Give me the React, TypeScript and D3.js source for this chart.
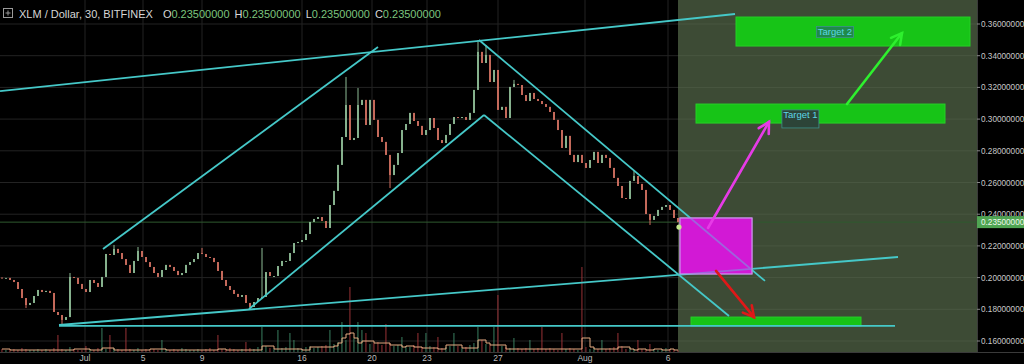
import React from 'react';
import * as d3 from 'd3';

// ── Data ─────────────────────────────────────────────────────────────────────
// Closing prices of the coarse candles, one per bar index
const closes = [
  0.1998, 0.1998, 0.1985, 0.1972, 0.1928, 0.1871, 0.1827, 0.1840, 0.1884, 0.1922,
  0.1909, 0.1916, 0.1903, 0.1783, 0.1764, 0.1733, 0.1751, 0.2004, 0.1998, 0.1960,
  0.1928, 0.1909, 0.1985, 0.1966, 0.1941, 0.2004, 0.2149, 0.2143, 0.2181, 0.2155,
  0.2117, 0.2080, 0.2029, 0.2105, 0.2168, 0.2130, 0.2098, 0.2067, 0.2029, 0.2004,
  0.2048, 0.2080, 0.2067, 0.2042, 0.2016, 0.2029, 0.2080, 0.2098, 0.2117, 0.2155,
  0.2149, 0.2130, 0.2124, 0.2098, 0.2042, 0.1985, 0.1947, 0.1922, 0.1897, 0.1878,
  0.1890, 0.1840, 0.1815, 0.1846, 0.1871, 0.1878, 0.2035, 0.2010, 0.2010, 0.2073,
  0.2105, 0.2105, 0.2155, 0.2218, 0.2225, 0.2237, 0.2275, 0.2351, 0.2370, 0.2382,
  0.2357, 0.2313, 0.2458, 0.2547, 0.2711, 0.2887, 0.3089, 0.2868, 0.2881, 0.3089,
  0.3121, 0.2963, 0.3121, 0.2995, 0.2887, 0.2856, 0.2774, 0.2647, 0.2711, 0.2786,
  0.2931, 0.2969, 0.3039, 0.2988, 0.2957, 0.2900, 0.2931, 0.3007, 0.2944, 0.2868,
  0.2849, 0.2900, 0.2969, 0.3013, 0.3007, 0.3013, 0.2995, 0.3039, 0.3184, 0.3424,
  0.3354, 0.3405, 0.3234, 0.3310, 0.3058, 0.3077, 0.3007, 0.3203, 0.3222, 0.3215,
  0.3152, 0.3114, 0.3165, 0.3127, 0.3114, 0.3095, 0.3077, 0.3045, 0.2995, 0.2931,
  0.2818, 0.2894, 0.2774, 0.2729, 0.2774, 0.2723, 0.2692, 0.2742, 0.2793, 0.2723,
  0.2774, 0.2755, 0.2692, 0.2629, 0.2578, 0.2502, 0.2496, 0.2610, 0.2641, 0.2591,
  0.2553, 0.2401, 0.2364, 0.2389, 0.2427, 0.2446, 0.2458, 0.2427, 0.2376, 0.2350,
];
const firstOpen = 0.2000;

// wicks that stick out beyond the bodies: [bar, price]
const wickHighs = [
  [17, 0.2029], [28, 0.2206], [34, 0.2193], [50, 0.2187], [65, 0.2187],
  [86, 0.3266], [89, 0.3196], [119, 0.3499], [121, 0.3467], [128, 0.3247], [158, 0.2679],
];
const wickLows = [
  [6, 0.1808], [15, 0.1701], [62, 0.1796], [97, 0.2565], [162, 0.2332],
];

// volume per bar
const volumes = [
  3, 2, 2, 3, 2, 4, 3, 2, 2, 3,
  2, 3, 2, 4, 17, 3, 2, 5, 3, 2,
  2, 6, 3, 2, 4, 24, 3, 17, 4, 3,
  2, 24, 3, 2, 4, 2, 3, 2, 3, 2,
  12, 3, 2, 3, 2, 4, 3, 2, 2, 3,
  2, 3, 4, 2, 17, 3, 2, 4, 3, 2,
  3, 10, 4, 3, 5, 25, 6, 4, 3, 22,
  4, 5, 19, 12, 4, 3, 5, 6, 4, 5,
  6, 7, 22, 8, 10, 30, 12, 65, 14, 30,
  22, 19, 8, 9, 10, 7, 28, 9, 6, 7,
  15, 6, 5, 7, 19, 5, 19, 6, 5, 15,
  4, 5, 6, 19, 6, 4, 5, 7, 9, 25,
  12, 8, 7, 25, 57, 6, 5, 4, 14, 4,
  3, 4, 12, 3, 4, 25, 3, 4, 3, 2,
  19, 3, 4, 3, 2, 85, 5, 3, 4, 3,
  12, 3, 4, 5, 19, 6, 3, 4, 3, 12,
  3, 2, 8, 3, 2, 3, 4, 3, 2, 2,
];

// volume moving average as drawn
const volumeMa = [
  3, 3, 2, 2, 2, 2, 2, 2, 2, 2,
  2, 2, 2, 2, 2, 2, 2, 2, 3, 3,
  3, 3, 2, 2, 2, 4, 4, 4, 2, 2,
  2, 2, 2, 2, 2, 2, 2, 3, 3, 3,
  3, 2, 2, 2, 2, 2, 2, 2, 2, 2,
  2, 2, 2, 2, 3, 3, 2, 2, 2, 2,
  2, 2, 2, 2, 2, 6, 6, 6, 3, 3,
  3, 3, 3, 3, 3, 2, 2, 5, 5, 5,
  5, 5, 5, 6, 9, 14, 18, 19, 14, 9,
  11, 11, 11, 9, 9, 9, 9, 7, 7, 7,
  5, 6, 6, 5, 5, 4, 4, 4, 4, 3,
  3, 7, 7, 7, 7, 4, 4, 4, 4, 12,
  12, 9, 7, 7, 7, 7, 3, 3, 3, 3,
  3, 3, 3, 3, 3, 3, 3, 3, 3, 3,
  3, 3, 3, 3, 3, 14, 14, 5, 3, 3,
  3, 3, 3, 3, 5, 5, 5, 3, 2, 3,
  3, 2, 2, 3, 3, 2, 2, 3, 2, 2,
];

const priceTicks = [0.16, 0.18, 0.2, 0.22, 0.24, 0.26, 0.28, 0.3, 0.32, 0.34, 0.36];
const lastPrice = 0.235;

// date labels and the bar they sit on
const dateLabels = ['Jul', '5', '9', '16', '20', '23', '27', 'Aug', '6'];
const dateBars = [20.75, 35.25, 50, 75, 92.5, 106.25, 124, 145.75, 166.5];

// drawings: [[bar, price], [bar, price]]
const trendLines = [
  [[-0.5, 0.3177], [183.25, 0.3663]],
  [[25.25, 0.2180], [94, 0.3455]],
  [[61.75, 0.1802], [120.5, 0.3026]],
  [[119.25, 0.3499], [190.75, 0.1979]],
  [[120.5, 0.3026], [181.75, 0.1758]],
  [[14.25, 0.1701], [224, 0.2130]],
  [[14.25, 0.1695], [223.25, 0.1695]],
];

const zones = [
  { name: 'entry', bars: [169.5, 187.5], prices: [0.2023, 0.2376] },
  { name: 'target1', bars: [173.5, 235.75], prices: [0.2975, 0.3095] },
  { name: 'target2', bars: [183.5, 242], prices: [0.3461, 0.3644] },
  { name: 'stop', bars: [172.25, 214.75], prices: [0.1695, 0.1751] },
];

const arrows = [
  { name: 'up1', from: [176.5, 0.2313], to: [191.75, 0.2982] },
  { name: 'up2', from: [211.25, 0.3095], to: [225, 0.3543] },
  { name: 'down', from: [178.5, 0.2042], to: [188, 0.1751] },
];

const labels = [
  { text: 'Target 1', at: [199.6, 0.3001] },
  { text: 'Target 2', at: [208.25, 0.3550] },
];

const futureStartBar = 169;

// ── Styles ───────────────────────────────────────────────────────────────────
const FONT = '"Liberation Sans", Arial, sans-serif';
const UP = '#8dbb95';
const DOWN = '#cf6f60';
const CYAN = '#45c8c8';
const zoneStyle = {
  entry: { fill: '#e812ec', opacity: 0.72, stroke: '#c890e8' },
  target1: { fill: '#17c417', opacity: 1, stroke: '#27d027' },
  target2: { fill: '#17c417', opacity: 1, stroke: '#27d027' },
  stop: { fill: '#17c417', opacity: 1, stroke: '#27d027' },
};
const arrowColor = { up1: '#e63be6', up2: '#2ef02e', down: '#e01818' };

const W = 1024;
const H = 364;
const plotRight = 977;
const plotBottom = 352;

export default function App() {
  const x = d3.scaleLinear().domain([-0.5, 243.75]).range([0, plotRight]);
  const y = d3.scaleLinear().domain([0.16, 0.36]).range([341, 24]);
  const yVol = d3.scaleLinear().domain([0, 100]).range([plotBottom, plotBottom - 100]);

  const candles = closes.map((c, i) => {
    const o = i === 0 ? firstOpen : closes[i - 1];
    const hi = wickHighs.find(w => w[0] === i);
    const lo = wickLows.find(w => w[0] === i);
    return {
      i, o, c,
      h: Math.max(o, c, hi ? hi[1] : 0),
      l: Math.min(o, c, lo ? lo[1] : 1),
    };
  });

  const maLine = d3.line<number>()
    .x((_, i) => x(i))
    .y(d => yVol(d))
    .curve(d3.curveStepAfter);

  const fmt = (p: number) => p.toFixed(8);

  const arrowHead = (x0: number, y0: number, x1: number, y1: number) => {
    const a = Math.atan2(y1 - y0, x1 - x0);
    const L = 12, t = 0.5;
    const p1 = [x1 - L * Math.cos(a - t), y1 - L * Math.sin(a - t)];
    const p2 = [x1 - L * Math.cos(a + t), y1 - L * Math.sin(a + t)];
    return `M${p1[0]},${p1[1]}L${x1},${y1}L${p2[0]},${p2[1]}`;
  };

  return (
    <div style={{ position: 'fixed', left: 0, top: 0, width: W, height: H, background: '#000' }}>
      <svg width={W} height={H} style={{ display: 'block' }} fontFamily={FONT}>
        <rect x={0} y={0} width={W} height={H} fill="#000" />

        {/* grid */}
        {priceTicks.map(p => (
          <line key={'gy' + p} x1={0} x2={plotRight} y1={y(p)} y2={y(p)} stroke="#232323" />
        ))}
        {dateBars.map((b, k) => (
          <line key={'gx' + k} x1={x(b)} x2={x(b)} y1={0} y2={plotBottom} stroke="#232323" />
        ))}

        {/* future zone */}
        <rect x={x(futureStartBar)} y={0} width={plotRight - x(futureStartBar)} height={plotBottom}
          fill="#5a6e4e" opacity={0.68} />

        {/* last price line */}
        <line x1={0} x2={plotRight} y1={y(lastPrice)} y2={y(lastPrice)} stroke="#2f5a2f" strokeWidth={1} />

        {/* volume */}
        {volumes.map((v, i) => (
          <rect key={'v' + i} x={x(i) - 0.8} y={yVol(v)} width={1.4} height={plotBottom - yVol(v)}
            fill={candles[i].c >= candles[i].o ? '#3f8a68' : '#a8383a'} opacity={0.65} />
        ))}
        <path d={maLine(volumeMa) || ''} fill="none" stroke="#e6ab82" strokeWidth={1} />

        {/* candles */}
        {candles.map(d => {
          const col = d.c >= d.o ? UP : DOWN;
          const top = y(Math.max(d.o, d.c));
          const bh = Math.max(1, Math.abs(y(d.o) - y(d.c)));
          return (
            <g key={'c' + d.i}>
              <line x1={x(d.i)} x2={x(d.i)} y1={y(d.h)} y2={y(d.l)} stroke={col} strokeWidth={1} />
              <rect x={x(d.i) - 0.9} y={top} width={1.8} height={bh} fill={col} />
            </g>
          );
        })}

        {/* zones */}
        {zones.map(z => {
          const s = zoneStyle[z.name];
          return (
            <rect key={z.name}
              x={x(z.bars[0])} y={y(z.prices[1])}
              width={x(z.bars[1]) - x(z.bars[0])} height={y(z.prices[0]) - y(z.prices[1])}
              fill={s.fill} fillOpacity={s.opacity} stroke={s.stroke} strokeWidth={1} />
          );
        })}

        {/* trend lines */}
        {trendLines.map((l, k) => (
          <line key={'t' + k}
            x1={x(l[0][0])} y1={y(l[0][1])} x2={x(l[1][0])} y2={y(l[1][1])}
            stroke={CYAN} strokeWidth={1.8} />
        ))}

        {/* re-tint the lines that cross the entry box */}
        {zones.filter(z => z.name === 'entry').map(z => (
          <rect key="entry-over"
            x={x(z.bars[0])} y={y(z.prices[1])}
            width={x(z.bars[1]) - x(z.bars[0])} height={y(z.prices[0]) - y(z.prices[1])}
            fill="#e812ec" fillOpacity={0.55} stroke="#c890e8" strokeWidth={1} />
        ))}

        {/* arrows */}
        {arrows.map(a => {
          const x0 = x(a.from[0]), y0 = y(a.from[1]), x1 = x(a.to[0]), y1 = y(a.to[1]);
          return (
            <g key={a.name} stroke={arrowColor[a.name]} strokeWidth={2.6} fill="none" strokeLinecap="round">
              <line x1={x0} y1={y0} x2={x1} y2={y1} />
              <path d={arrowHead(x0, y0, x1, y1)} />
            </g>
          );
        })}

        {/* zone labels */}
        {labels.map(lb => {
          const cx = x(lb.at[0]), cy = y(lb.at[1]);
          const big = lb.text === 'Target 1';
          return (
            <g key={lb.text}>
              <rect x={cx - 18.5} y={big ? cy - 9 : cy - 5.5} width={37} height={big ? 18 : 11}
                fill={big ? '#2c4438' : '#1f8a4a'} stroke="#3d8f8a" strokeWidth={0.8} />
              <text x={cx} y={big ? cy - 1 : cy + 3.5} textAnchor="middle" fontSize={9.5} fill="#5cd6e6">
                {lb.text}
              </text>
            </g>
          );
        })}

        {/* last price dot */}
        <circle cx={x(169.25)} cy={y(0.2319)} r={2.6} fill="#c4e88e" />

        {/* price axis */}
        <rect x={plotRight} y={0} width={W - plotRight} height={H} fill="#000" />
        <line x1={plotRight + 0.5} x2={plotRight + 0.5} y1={0} y2={plotBottom} stroke="#3a3a3a" />
        {priceTicks.map(p => (
          <g key={'py' + p}>
            <line x1={plotRight} x2={plotRight + 3} y1={y(p)} y2={y(p)} stroke="#888" />
            <text x={plotRight + 4} y={y(p) + 3} fontSize={8.2} fill="#c8c8c8">{fmt(p)}</text>
          </g>
        ))}
        <rect x={plotRight} y={y(lastPrice) - 6} width={W - plotRight} height={12} fill="#4fa552" />
        <text x={plotRight + 4} y={y(lastPrice) + 3} fontSize={8.2} fill="#eef8ee">{fmt(lastPrice)}</text>

        {/* time axis */}
        <rect x={0} y={plotBottom} width={W} height={H - plotBottom} fill="#000" />
        <line x1={0} x2={W} y1={plotBottom + 0.5} y2={plotBottom + 0.5} stroke="#3a3a3a" />
        {dateLabels.map((t, k) => (
          <text key={'dx' + k} x={x(dateBars[k])} y={361} textAnchor="middle" fontSize={8.5} fill="#bdbdbd">{t}</text>
        ))}

        {/* header */}
        <rect x={3.5} y={8.5} width={9} height={9} fill="none" stroke="#9a9a9a" />
        <line x1={5.5} x2={10.5} y1={13} y2={13} stroke="#9a9a9a" />
        <line x1={8} x2={8} y1={10.5} y2={15.5} stroke="#9a9a9a" />
        <text x={19} y={18} fontSize={11} fill="#d6d6d6">
          XLM / Dollar, 30, BITFINEX
          <tspan dx={10} fill="#d6d6d6">O</tspan><tspan fill="#7cc57e">{fmt(lastPrice)}</tspan>
          <tspan dx={5} fill="#d6d6d6">H</tspan><tspan fill="#7cc57e">{fmt(lastPrice)}</tspan>
          <tspan dx={5} fill="#d6d6d6">L</tspan><tspan fill="#7cc57e">{fmt(lastPrice)}</tspan>
          <tspan dx={5} fill="#d6d6d6">C</tspan><tspan fill="#7cc57e">{fmt(lastPrice)}</tspan>
        </text>
      </svg>
    </div>
  );
}
